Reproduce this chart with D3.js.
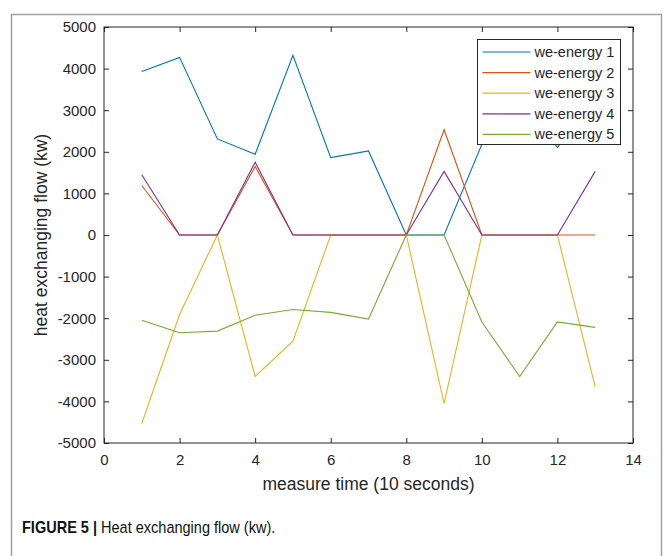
<!DOCTYPE html>
<html>
<head>
<meta charset="utf-8">
<script src="https://cdn.jsdelivr.net/npm/d3@7"></script>
<style>
  body { margin: 0; background: #fff; }
  svg { display: block; font-family: "Liberation Sans", Arial, sans-serif; }
</style>
</head>
<body>
<svg id="canvas" width="667" height="556"></svg>
<script>
// measure time steps
const times = [1, 2, 3, 4, 5, 6, 7, 8, 9, 10, 11, 12, 13];

// series values (kw)
const energy1 = [3930, 4270, 2310, 1940, 4320, 1860, 2020, 0, 0, 2180, 3400, 2100, 3300];
const energy2 = [1190, 0, 0, 1650, 0, 0, 0, 0, 2530, 0, 0, 0, 0];
const energy3 = [-4530, -1910, 0, -3400, -2550, 0, 0, 0, -4050, 0, 0, 0, -3650];
const energy4 = [1450, 0, 0, 1750, 0, 0, 0, 0, 1530, 0, 0, 0, 1530];
const energy5 = [-2050, -2350, -2310, -1930, -1790, -1860, -2020, 0, 0, -2090, -3400, -2090, -2220];

const seriesNames = ["we-energy 1", "we-energy 2", "we-energy 3", "we-energy 4", "we-energy 5"];
const seriesValues = [energy1, energy2, energy3, energy4, energy5];
const colors = ["#0072BD", "#D95319", "#EDB120", "#7E2F8E", "#77AC30"];

const xTicks = [0, 2, 4, 6, 8, 10, 12, 14];
const yTicks = [-5000, -4000, -3000, -2000, -1000, 0, 1000, 2000, 3000, 4000, 5000];

const svg = d3.select("#canvas");

// figure frame (grey border, open at bottom)
svg.append("path")
    .attr("d", "M11.5,556 V14.5 H661.5 V556")
    .attr("fill", "none")
    .attr("stroke", "#a0a0a0")
    .attr("stroke-width", 1.5);

const plot = { left: 104, right: 633, top: 27, bottom: 443 };

const x = d3.scaleLinear().domain([0, 14]).range([plot.left, plot.right]);
const y = d3.scaleLinear().domain([-5000, 5000]).range([plot.bottom, plot.top]);

const tickLen = 5;
const axisColor = "#262626";
const plainNum = d => String(d); // keep ASCII hyphen like the original

// ── Axes (ticks inward on all four sides) ──
function styleAxis(g, showLabels) {
    g.select(".domain").remove();
    g.selectAll(".tick line").attr("stroke", axisColor);
    g.selectAll(".tick text")
        .attr("fill", axisColor)
        .style("font-size", "15px")
        .style("display", showLabels ? null : "none");
}

svg.append("g")
    .attr("transform", `translate(0,${plot.bottom})`)
    .call(d3.axisBottom(x).tickValues(xTicks).tickSize(-tickLen).tickPadding(11).tickFormat(plainNum))
    .call(g => styleAxis(g, true));

svg.append("g")
    .attr("transform", `translate(0,${plot.top})`)
    .call(d3.axisTop(x).tickValues(xTicks).tickSize(-tickLen))
    .call(g => styleAxis(g, false));

svg.append("g")
    .attr("transform", `translate(${plot.left},0)`)
    .call(d3.axisLeft(y).tickValues(yTicks).tickSize(-tickLen).tickPadding(8).tickFormat(plainNum))
    .call(g => styleAxis(g, true));

svg.append("g")
    .attr("transform", `translate(${plot.right},0)`)
    .call(d3.axisRight(y).tickValues(yTicks).tickSize(-tickLen))
    .call(g => styleAxis(g, false));

svg.append("rect")
    .attr("x", plot.left).attr("y", plot.top)
    .attr("width", plot.right - plot.left).attr("height", plot.bottom - plot.top)
    .attr("fill", "none").attr("stroke", axisColor).attr("stroke-width", 1);

// ── Lines ──
const line = d3.line()
    .x((d, i) => x(times[i]))
    .y(d => y(d));

svg.append("g").selectAll("path")
    .data(seriesValues)
    .join("path")
    .attr("d", d => line(d))
    .attr("fill", "none")
    .attr("stroke", (d, i) => colors[i])
    .attr("stroke-width", 1.1);

// ── Axis titles ──
svg.append("text")
    .attr("x", (plot.left + plot.right) / 2)
    .attr("y", 490)
    .attr("text-anchor", "middle")
    .attr("fill", axisColor)
    .style("font-size", "17.5px")
    .text("measure time (10 seconds)");

svg.append("text")
    .attr("transform", `translate(47,${(plot.top + plot.bottom) / 2}) rotate(-90)`)
    .attr("text-anchor", "middle")
    .attr("fill", axisColor)
    .style("font-size", "17.5px")
    .text("heat exchanging flow (kw)");

// ── Legend ──
const legend = svg.append("g").attr("transform", "translate(477.5,39.5)");
legend.append("rect")
    .attr("width", 143).attr("height", 105)
    .attr("fill", "#fff").attr("stroke", axisColor).attr("stroke-width", 1);

const rows = legend.selectAll("g.row")
    .data(seriesNames)
    .join("g")
    .attr("class", "row")
    .attr("transform", (d, i) => `translate(0,${12.5 + i * 20.6})`);

rows.append("line")
    .attr("x1", 5).attr("x2", 53)
    .attr("stroke", (d, i) => colors[i])
    .attr("stroke-width", 1.2);

rows.append("text")
    .attr("x", 57).attr("dy", "0.35em")
    .attr("fill", axisColor)
    .style("font-size", "14.5px")
    .text(d => d);

// ── Caption (condensed like the journal font) ──
const caption = svg.append("text")
    .attr("transform", "translate(22,533) scale(0.88,1)")
    .attr("fill", "#111")
    .style("font-size", "16.5px");
caption.append("tspan").style("font-weight", "bold").text("FIGURE 5 | ");
caption.append("tspan").text("Heat exchanging flow (kw).");
</script>
</body>
</html>
